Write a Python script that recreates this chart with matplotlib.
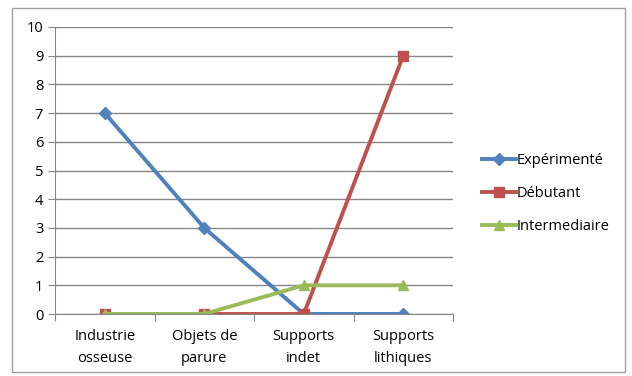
import matplotlib
matplotlib.use("Agg")
import matplotlib.pyplot as plt
from matplotlib.patches import Rectangle

categories = ["Industrie\nosseuse", "Objets de\nparure", "Supports\nindet", "Supports\nlithiques"]
experimente = [7, 3, 0, 0]
debutant = [0, 0, 0, 9]
intermediaire = [0, 0, 1, 1]

plt.rcParams['font.family'] = ['Open Sans', 'DejaVu Sans']

fig = plt.figure(figsize=(6.32, 3.76), dpi=100)
fig.patches.append(Rectangle((12/632, 4/376), 613/632, 364/376, transform=fig.transFigure,
                             fill=False, edgecolor='#a0a0a0', linewidth=1))
ax = fig.add_axes([55/632, 1-314/376, 398/632, 287/376])

x = range(len(categories))
ax.plot(x, experimente, color='#4F81BD', lw=2.8, marker='D', ms=6, label='Expérimenté')
ax.plot(x, debutant, color='#C0504D', lw=2.8, marker='s', ms=7, label='Débutant')
ax.plot(x, intermediaire, color='#9BBB59', lw=2.8, marker='^', ms=7, label='Intermediaire')

ax.set_xlim(-0.5, 3.5)
ax.set_ylim(0, 10)
ax.set_yticks(range(0, 11))
ax.yaxis.grid(True, color='#868686', lw=1)
ax.set_axisbelow(True)
ax.set_xticks([-0.5, 0.5, 1.5, 2.5, 3.5])
ax.set_xticklabels([])
ax.set_xticks(list(x), minor=True)
ax.set_xticklabels(categories, minor=True, fontsize=10.5, linespacing=1.6)
ax.tick_params(axis='x', which='minor', length=0, pad=11)
ax.tick_params(axis='x', which='major', length=5, color='#868686')
ax.tick_params(axis='y', length=5, color='#868686', labelsize=10.5)
for s in ['top', 'right']:
    ax.spines[s].set_visible(False)
for s in ['left', 'bottom']:
    ax.spines[s].set_color('#868686')

ax.legend(loc='center left', bbox_to_anchor=(1.04, 0.42), frameon=False, fontsize=10.5,
          handlelength=2.3, handletextpad=0.1, labelspacing=1.25)

fig.savefig("out.png", dpi=100)
